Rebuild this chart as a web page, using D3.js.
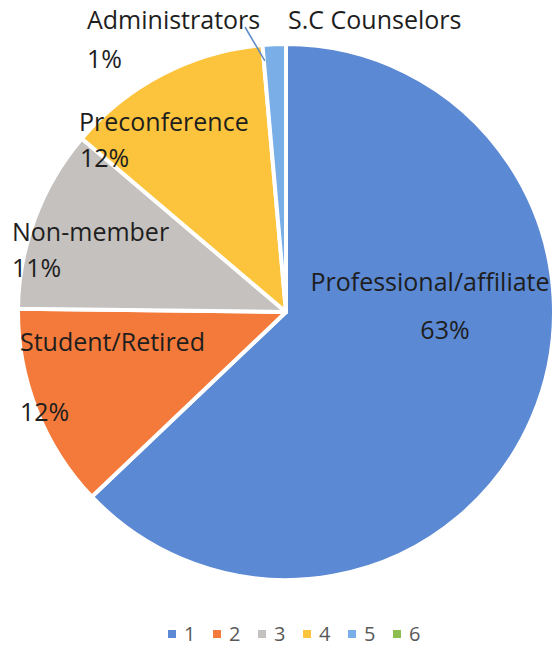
<html><head>
<script src="https://cdnjs.cloudflare.com/ajax/libs/d3/7.8.5/d3.min.js"></script>
<style>
body { margin: 0; background: #fff; }
svg text { font-family: "Open Sans", sans-serif; }
</style>
</head>
<body>
<div id="chart"></div>
<script>
// Data
const categories = ["Professional/affiliate", "Student/Retired", "Non-member", "Preconference", "Administrators", "S.C Counselors"];
const legendKeys = ["1", "2", "3", "4", "5", "6"];
const shares = [62.9, 12.3, 11.0, 12.4, 1.4, 0];
const showPercent = [true, true, true, true, true, false];
const colors = ["#5b89d3", "#f37a3a", "#c5c1bf", "#fcc43c", "#79aee6", "#8dbe50"];

const width = 558, height = 648;
const cx = 286, cy = 312, radius = 268;

// label placement (name line, percent line)
const labelLayout = [
  {x: 430, y: 291, px: 445, py: 339, anchor: "middle"},
  {x: 20, y: 351, px: 20, py: 421, anchor: "start"},
  {x: 12, y: 241, px: 12, py: 277, anchor: "start"},
  {x: 79, y: 131, px: 80, py: 167, anchor: "start"},
  {x: 87, y: 29, px: 87, py: 68, anchor: "start"},
  {x: 288, y: 29, px: 288, py: 68, anchor: "start"}
];

const svg = d3.select("#chart").append("svg")
  .attr("width", width)
  .attr("height", height);

const g = svg.append("g").attr("transform", `translate(${cx},${cy})`);

const pie = d3.pie().sort(null).value(d => d);
const arcs = pie(shares);
const arc = d3.arc().innerRadius(0).outerRadius(radius);

g.selectAll("path.slice")
  .data(arcs)
  .enter().append("path")
  .attr("class", "slice")
  .attr("d", arc)
  .attr("fill", (d, i) => colors[i])
  .attr("stroke", "#fff")
  .attr("stroke-width", 4)
  .attr("stroke-linejoin", "round");

// leader line for Administrators
const adm = arcs[4];
const admAngle = adm.startAngle + 0.004;
const lineEnd = [Math.sin(admAngle) * (radius - 16), -Math.cos(admAngle) * (radius - 16)];
svg.append("line")
  .attr("x1", 245).attr("y1", 27)
  .attr("x2", cx + lineEnd[0]).attr("y2", cy + lineEnd[1])
  .attr("stroke", "#5b89c8")
  .attr("stroke-width", 1.5);

const total = d3.sum(shares);
const fmt = v => Math.round(v / total * 100) + "%";

const labels = svg.append("g").attr("fill", "#1e1e1e").style("font-size", "25px");
categories.forEach((name, i) => {
  const L = labelLayout[i];
  labels.append("text")
    .attr("x", L.x).attr("y", L.y)
    .attr("text-anchor", L.anchor)
    .text(name);
  if (showPercent[i]) {
    labels.append("text")
      .attr("x", L.px).attr("y", L.py)
      .attr("text-anchor", L.anchor)
      .text(fmt(shares[i]));
  }
});

// legend
const legendX = d3.scalePoint().domain(legendKeys).range([172, 397]);
const legend = svg.append("g").attr("transform", "translate(0,634)");
legendKeys.forEach((k, i) => {
  legend.append("rect")
    .attr("x", legendX(k) - 4).attr("y", -4)
    .attr("width", 8).attr("height", 8)
    .attr("fill", colors[i]);
  legend.append("text")
    .attr("x", legendX(k) + 12).attr("y", 7)
    .attr("fill", "#595959")
    .style("font-size", "20px")
    .text(k);
});
</script>
</body></html>
